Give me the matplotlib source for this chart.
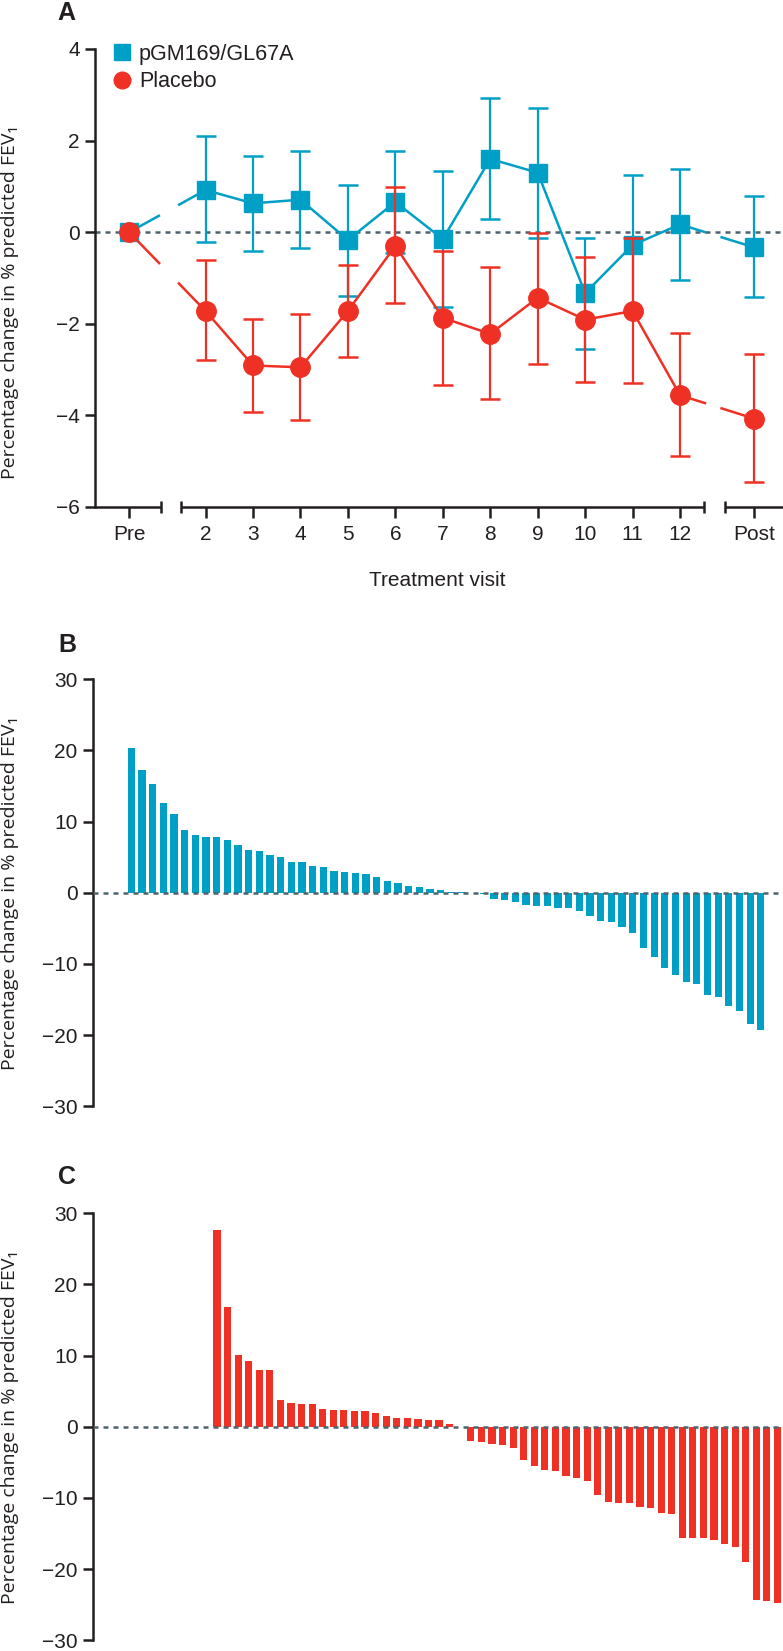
import numpy as np
import matplotlib
matplotlib.use('Agg')
import matplotlib.pyplot as plt
from matplotlib import font_manager as fm
from matplotlib.lines import Line2D

# ---------------- data ----------------
visit_labels = ['Pre', '2', '3', '4', '5', '6', '7', '8', '9', '10', '11', '12', 'Post']

gm_mean  = [0.0, 0.92, 0.63, 0.71, -0.17, 0.66, -0.15, 1.60, 1.30, -1.33, -0.28, 0.17, -0.33]
gm_upper = [np.nan, 2.10, 1.67, 1.78, 1.03, 1.78, 1.33, 2.93, 2.72, -0.12, 1.24, 1.37, 0.78]
gm_lower = [np.nan, -0.22, -0.40, -0.35, -1.39, -0.46, -1.64, 0.28, -0.12, -2.55, -1.75, -1.05, -1.41]

pl_mean  = [0.0, -1.72, -2.91, -2.95, -1.72, -0.30, -1.87, -2.22, -1.43, -1.91, -1.72, -3.56, -4.07]
pl_upper = [np.nan, -0.60, -1.90, -1.79, -0.71, 0.99, -0.41, -0.77, -0.01, -0.55, -0.12, -2.21, -2.66]
pl_lower = [np.nan, -2.80, -3.92, -4.10, -2.73, -1.55, -3.33, -3.65, -2.88, -3.26, -3.30, -4.88, -5.46]

active_change = [20.4, 17.2, 15.3, 12.6, 11.05, 8.8, 8.1, 7.9, 7.8, 7.4,
                 6.7, 5.95, 5.85, 5.25, 4.97, 4.35, 4.26, 3.8, 3.56, 3.05,
                 2.95, 2.72, 2.63, 2.16, 1.69, 1.4, 0.9, 0.76, 0.56, 0.38,
                 0.12, 0.05, -0.08, -0.22, -0.93, -1.0, -1.26, -1.73, -1.8, -1.83,
                 -2.1, -2.2, -2.57, -3.27, -3.97, -4.06, -4.86, -5.7, -7.72, -9.08,
                 -10.6, -11.56, -12.54, -12.78, -14.4, -14.6, -15.9, -16.6, -18.4, -19.3]

placebo_change = [27.7, 16.8, 10.06, 9.2, 8.05, 8.05, 3.83, 3.41, 3.23, 3.18,
                  2.57, 2.43, 2.33, 2.22, 2.15, 1.92, 1.45, 1.26, 1.26, 1.07,
                  0.93, 0.9, 0.42, 0.0, -2.02, -2.16, -2.44, -2.53, -2.95, -4.63,
                  -5.44, -6.14, -6.24, -6.98, -7.16, -7.58, -9.55, -10.53, -10.67, -10.72,
                  -11.2, -11.45, -12.1, -12.25, -15.64, -15.64, -15.64, -15.97, -16.5, -16.83,
                  -18.94, -24.3, -24.5, -24.75]

series_names = ['pGM169/GL67A', 'Placebo']

# ---------------- style ----------------
names = {f.name for f in fm.fontManager.ttflist}
TF = 'Liberation Sans' if 'Liberation Sans' in names else 'DejaVu Sans'
RF = 'Open Sans' if 'Open Sans' in names else 'DejaVu Sans'
BLUE = '#00a0c6'
RED = '#ee3124'
INK = '#231f20'
ZC = '#4d6470'
TICK_FS = 15
LAB_FS = 14

W, H = 783, 1651
fig = plt.figure(figsize=(W / 100, H / 100), dpi=100)


def axes_px(left, top, right, bottom):
    return fig.add_axes([left / W, 1 - bottom / H, (right - left) / W, (bottom - top) / H])


def style_y(ax):
    for s in ['top', 'right', 'bottom']:
        ax.spines[s].set_visible(False)
    ax.spines['left'].set_linewidth(1.8)
    ax.spines['left'].set_color(INK)
    ax.tick_params(axis='y', direction='out', length=7.5, width=1.8, pad=3.5,
                   colors=INK, labelsize=TICK_FS)
    for t in ax.get_yticklabels():
        t.set_fontfamily(TF)


# ---------------- panel A ----------------
axA = axes_px(95, 49, 783, 507)
xpos = np.array([2 - 1.61] + list(range(2, 13)) + [12 + 1.56])
axA.set_xlim(-0.33, 14.17)
axA.set_ylim(-6, 4)
axA.set_yticks([4, 2, 0, -2, -4, -6])
axA.set_yticklabels(['4', '2', '0', '\u22122', '\u22124', '\u22126'])
style_y(axA)
axA.set_xticks(xpos)
axA.set_xticklabels(visit_labels)
axA.tick_params(axis='x', direction='out', length=8, width=1.8, pad=5, colors=INK, labelsize=TICK_FS)
for t in axA.get_xticklabels():
    t.set_fontfamily(TF)

axA.axhline(0, color=ZC, lw=1.8, ls=(0, (2.0, 2.0)), zorder=1)

# broken x axis
seg_bounds = [(-0.33, 1.07), (1.49, 12.51), (12.95, 14.17)]
for a, b in seg_bounds:
    axA.plot([a, b], [-6, -6], color=INK, lw=1.8, clip_on=False, solid_capstyle='butt', zorder=6)
axA.plot([1.07, 1.49, 12.51, 12.95], [-6] * 4, ls='none', marker='|', ms=9, mew=1.8,
         color=INK, clip_on=False, zorder=6)

gap1 = (1.04, 1.42)
gap2 = (12.55, 12.85)


def draw_series(mean, lo, hi, color, marker, ms, z):
    mean = np.asarray(mean, float)
    lo = np.asarray(lo, float)
    hi = np.asarray(hi, float)
    axA.errorbar(xpos[1:], mean[1:], yerr=[mean[1:] - lo[1:], hi[1:] - mean[1:]], fmt='none',
                 ecolor=color, elinewidth=1.6, capsize=7.5, capthick=1.8, zorder=z)
    axA.plot(xpos[1:-1], mean[1:-1], color=color, lw=1.8, zorder=z)
    y_a = np.interp(gap1, xpos[:2], mean[:2])
    axA.plot([xpos[0], gap1[0]], [mean[0], y_a[0]], color=color, lw=1.8, zorder=z, solid_capstyle='butt')
    axA.plot([gap1[1], xpos[1]], [y_a[1], mean[1]], color=color, lw=1.8, zorder=z, solid_capstyle='butt')
    y_b = np.interp(gap2, xpos[-2:], mean[-2:])
    axA.plot([xpos[-2], gap2[0]], [mean[-2], y_b[0]], color=color, lw=1.8, zorder=z, solid_capstyle='butt')
    axA.plot([gap2[1], xpos[-1]], [y_b[1], mean[-1]], color=color, lw=1.8, zorder=z, solid_capstyle='butt')
    axA.plot(xpos, mean, ls='none', marker=marker, ms=ms, color=color, mec=color, zorder=z + 0.5)


draw_series(gm_mean, gm_lower, gm_upper, BLUE, 's', 13, 3)
draw_series(pl_mean, pl_lower, pl_upper, RED, 'o', 14, 4)

handles = [Line2D([], [], ls='none', marker='s', ms=11, color=BLUE),
           Line2D([], [], ls='none', marker='o', ms=12, color=RED)]
leg = axA.legend(handles, series_names, loc='upper left', bbox_to_anchor=(112 / W, 1 - 44 / H),
                 bbox_transform=fig.transFigure, frameon=False, handlelength=0.9,
                 handletextpad=0.35, labelspacing=0.3, borderpad=0, borderaxespad=0,
                 prop={'family': TF, 'size': 15.5})
for t in leg.get_texts():
    t.set_color(INK)

fig.text(437 / W, 1 - 580 / H, 'Treatment visit', ha='center', va='center',
         fontsize=TICK_FS, family=TF, color=INK)


# ---------------- panels B, C ----------------
def bar_panel(ax, values, color, first_px, step_px, spine_px):
    n = len(values)
    idx = np.arange(n)
    left = -(first_px - spine_px) / step_px
    right = (W - first_px) / step_px
    ax.bar(idx, values, width=0.68, color=color, edgecolor='none', zorder=2)
    ax.axhline(0, color=ZC, lw=1.8, ls=(0, (2.0, 2.0)), zorder=3)
    ax.set_xlim(left, right)
    ax.set_ylim(-30, 30)
    ax.set_yticks([30, 20, 10, 0, -10, -20, -30])
    ax.set_yticklabels(['30', '20', '10', '0', '\u221210', '\u221220', '\u221230'])
    ax.set_xticks([])
    style_y(ax)


axB = axes_px(93, 679.3, 783, 1106.3)
bar_panel(axB, active_change, BLUE, 131.3, 10.67, 93)
axC = axes_px(93, 1213.3, 783, 1640.3)
bar_panel(axC, placebo_change, RED, 217, 10.575, 93)

# y labels
ylab = 'Percentage change in % predicted FEV\u2081'
for yc in [302, 893, 1427]:
    fig.text(10 / W, 1 - yc / H, ylab, rotation=90, ha='center', va='center',
             fontsize=LAB_FS, family=[RF, 'DejaVu Sans'], color=INK)

# panel letters
for letter, (px, py) in zip('ABC', [(66, 13), (67, 645), (67, 1177)]):
    fig.text(px / W, 1 - py / H, letter, ha='center', va='center', fontsize=18,
             fontweight='bold', family=TF, color=INK)

fig.savefig('out.png', dpi=100)
